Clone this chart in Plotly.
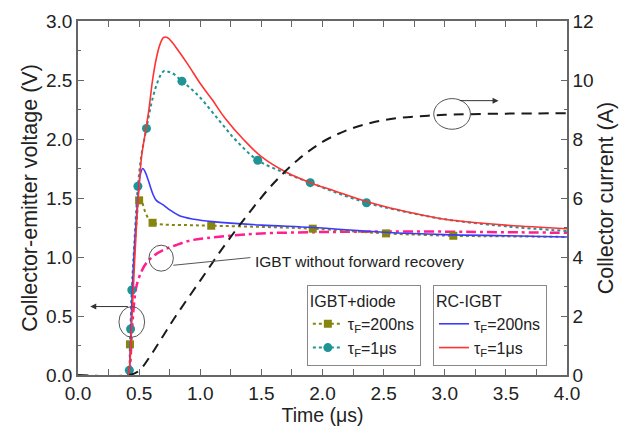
import plotly.graph_objects as go

# ---------------- data ----------------
# Collector current (right axis, A) - black dashed
t_cur = [0.0, 0.42, 0.50, 0.60, 0.70, 0.80, 1.0, 1.2, 1.4, 1.6, 1.8, 2.0, 2.2, 2.4, 2.6, 2.8, 3.0, 3.5, 4.0]
i_cur = [0.0, 0.0, 0.15, 0.7, 1.35, 2.0, 3.2, 4.4, 5.5, 6.5, 7.3, 7.9, 8.3, 8.55, 8.7, 8.77, 8.82, 8.86, 8.87]

# RC-IGBT, tauF = 1us (red)
t_red = [0.41, 0.42, 0.44, 0.46, 0.48, 0.50, 0.52, 0.55, 0.58, 0.61, 0.64, 0.67, 0.70, 0.73, 0.77, 0.82,
         0.90, 1.0, 1.1, 1.2, 1.35, 1.5, 1.7, 1.9, 2.1, 2.3, 2.5, 2.75, 3.0, 3.5, 4.0]
v_red = [0.0, 0.05, 0.45, 0.9, 1.3, 1.6, 1.85, 2.05, 2.25, 2.5, 2.68, 2.80, 2.86, 2.86, 2.82, 2.75,
         2.63, 2.47, 2.33, 2.18, 2.0, 1.85, 1.72, 1.63, 1.56, 1.49, 1.43, 1.37, 1.32, 1.27, 1.24]

# RC-IGBT, tauF = 200ns (blue)
t_blue = [0.41, 0.42, 0.44, 0.46, 0.49, 0.51, 0.53, 0.55, 0.575, 0.61, 0.64, 0.70, 0.75, 0.83, 0.95,
          1.1, 1.5, 1.92, 2.5, 3.0, 3.5, 4.0]
v_blue = [0.0, 0.05, 0.6, 1.05, 1.5, 1.7, 1.75, 1.72, 1.65, 1.54, 1.48, 1.44, 1.40, 1.35, 1.32,
          1.30, 1.27, 1.25, 1.21, 1.19, 1.18, 1.17]

# IGBT+diode, tauF = 1us (teal, dotted)
t_teal = [0.41, 0.42, 0.43, 0.44, 0.46, 0.49, 0.52, 0.56, 0.60, 0.64, 0.68, 0.71, 0.74, 0.77, 0.85, 0.92,
          1.0, 1.16, 1.3, 1.47, 1.7, 1.9, 2.1, 2.36, 2.6, 3.0, 3.5, 4.0]
v_teal = [0.0, 0.04, 0.39, 0.72, 1.1, 1.60, 1.87, 2.09, 2.30, 2.45, 2.55, 2.58, 2.57, 2.56, 2.49, 2.43,
          2.35, 2.15, 1.98, 1.82, 1.71, 1.63, 1.55, 1.46, 1.40, 1.32, 1.26, 1.22]
t_teal_mk = [0.42, 0.43, 0.44, 0.49, 0.56, 0.85, 1.47, 1.90, 2.36]
v_teal_mk = [0.04, 0.39, 0.72, 1.60, 2.09, 2.49, 1.82, 1.63, 1.46]

# IGBT+diode, tauF = 200ns (olive, dotted)
t_olive = [0.41, 0.42, 0.425, 0.45, 0.48, 0.50, 0.52, 0.55, 0.58, 0.61, 0.70, 0.90, 1.09, 1.5, 1.92,
           2.52, 3.07, 3.5, 4.0]
v_olive = [0.0, 0.05, 0.26, 0.85, 1.3, 1.48, 1.47, 1.38, 1.32, 1.29, 1.275, 1.27, 1.265, 1.255, 1.24,
           1.20, 1.18, 1.175, 1.17]
t_olive_mk = [0.425, 0.50, 0.61, 1.09, 1.92, 2.52, 3.07]
v_olive_mk = [0.26, 1.48, 1.29, 1.265, 1.24, 1.20, 1.18]

# IGBT without forward recovery (magenta, dash-dot)
t_mag = [0.41, 0.42, 0.44, 0.46, 0.48, 0.52, 0.56, 0.62, 0.70, 0.80, 0.92, 1.05, 1.24, 1.5, 1.92,
         2.36, 3.0, 3.5, 4.0]
v_mag = [0.0, 0.02, 0.35, 0.62, 0.76, 0.88, 0.95, 1.01, 1.06, 1.10, 1.14, 1.16, 1.18, 1.20, 1.21,
         1.215, 1.215, 1.21, 1.205]

# colours
C_OLIVE = "#85850f"
C_TEAL = "#1e9494"
C_BLUE = "#3b3bff"
C_RED = "#ff3333"
C_MAG = "#ff1f8f"
C_BLACK = "#1a1a1a"
C_AX = "#666666"
FONT = "Liberation Sans, Arial, sans-serif"

fig = go.Figure()

# current (right axis)
fig.add_trace(go.Scatter(x=t_cur, y=i_cur, yaxis="y2", mode="lines", line_shape="spline",
                         line=dict(color=C_BLACK, width=2, dash="10px,7px"), showlegend=False))
# magenta
fig.add_trace(go.Scatter(x=t_mag, y=v_mag, mode="lines", line_shape="spline",
                         line=dict(color=C_MAG, width=2.5, dash="10px,4px,3px,4px"), showlegend=False))
# olive
fig.add_trace(go.Scatter(x=t_olive, y=v_olive, mode="lines", line_shape="spline",
                         line=dict(color=C_OLIVE, width=2, dash="3px,3px"), showlegend=False))
fig.add_trace(go.Scatter(x=t_olive_mk, y=v_olive_mk, mode="markers",
                         marker=dict(symbol="square", size=8, color=C_OLIVE), showlegend=False))
# teal
fig.add_trace(go.Scatter(x=t_teal, y=v_teal, mode="lines", line_shape="spline",
                         line=dict(color=C_TEAL, width=2, dash="3px,3px"), showlegend=False))
fig.add_trace(go.Scatter(x=t_teal_mk, y=v_teal_mk, mode="markers",
                         marker=dict(symbol="circle", size=9, color=C_TEAL), showlegend=False))
# blue, red
fig.add_trace(go.Scatter(x=t_blue, y=v_blue, mode="lines", line_shape="spline",
                         line=dict(color=C_BLUE, width=1.6), showlegend=False))
fig.add_trace(go.Scatter(x=t_red, y=v_red, mode="lines", line_shape="spline",
                         line=dict(color=C_RED, width=1.6), showlegend=False))

# legend-only entries
fig.add_trace(go.Scatter(x=[None], y=[None], mode="lines+markers", name="τ<sub>F</sub>=200ns",
                         line=dict(color=C_OLIVE, width=2, dash="3px,3px"),
                         marker=dict(symbol="square", size=8, color=C_OLIVE), legend="legend"))
fig.add_trace(go.Scatter(x=[None], y=[None], mode="lines+markers", name="τ<sub>F</sub>=1μs",
                         line=dict(color=C_TEAL, width=2, dash="3px,3px"),
                         marker=dict(symbol="circle", size=9, color=C_TEAL), legend="legend"))
fig.add_trace(go.Scatter(x=[None], y=[None], mode="lines", name="τ<sub>F</sub>=200ns",
                         line=dict(color=C_BLUE, width=1.6), legend="legend2"))
fig.add_trace(go.Scatter(x=[None], y=[None], mode="lines", name="τ<sub>F</sub>=1μs",
                         line=dict(color=C_RED, width=1.6), legend="legend2"))

# annotation shapes
shape_line = dict(color="#555555", width=1)
fig.add_shape(type="circle", xref="x", yref="y", x0=0.44 - 0.105, x1=0.44 + 0.105,
              y0=0.45 - 0.13, y1=0.45 + 0.13, line=shape_line)
fig.add_shape(type="circle", xref="x", yref="y", x0=0.68 - 0.10, x1=0.68 + 0.10,
              y0=0.99 - 0.11, y1=0.99 + 0.11, line=shape_line)
fig.add_shape(type="circle", xref="x", yref="y2", x0=3.06 - 0.15, x1=3.06 + 0.15,
              y0=8.85 - 0.52, y1=8.85 + 0.52, line=shape_line)
fig.add_shape(type="line", xref="x", yref="y", x0=0.78, y0=0.93, x1=1.41, y1=0.995, line=shape_line)

fig.add_annotation(x=0.10, y=0.58, ax=0.42, ay=0.58, xref="x", yref="y", axref="x", ayref="y",
                   text="", showarrow=True, arrowhead=2, arrowsize=1.2, arrowwidth=1, arrowcolor="#333333")
fig.add_annotation(x=3.44, y=9.3, ax=3.11, ay=9.3, xref="x", yref="y2", axref="x", ayref="y2",
                   text="", showarrow=True, arrowhead=2, arrowsize=1.2, arrowwidth=1, arrowcolor="#333333")
fig.add_annotation(x=1.43, y=0.96, xref="x", yref="y", text="IGBT without forward recovery",
                   showarrow=False, xanchor="left", yanchor="middle",
                   font=dict(family=FONT, size=15.5, color="#222222"))

tickfont = dict(family=FONT, size=19, color="#222222")
xtitlefont = dict(family=FONT, size=19.5, color="#222222")
ytitlefont = dict(family=FONT, size=21.5, color="#222222")

fig.update_layout(
    width=634, height=442,
    margin=dict(l=78, r=67, t=21, b=67),
    paper_bgcolor="white", plot_bgcolor="white",
    xaxis=dict(range=[0, 4], dtick=0.5, tickformat=".1f", ticks="inside", ticklen=6, tickcolor=C_AX,
               showline=True, linecolor=C_AX, linewidth=1.5, mirror="allticks", showgrid=False,
               zeroline=False, tickfont=tickfont,
               minor=dict(dtick=0.25, ticks="inside", ticklen=3, tickcolor=C_AX),
               title=dict(text="Time (μs)", font=xtitlefont, standoff=5)),
    yaxis=dict(range=[0, 3], dtick=0.5, tickformat=".1f", ticks="inside", ticklen=6, tickcolor=C_AX,
               showline=True, linecolor=C_AX, linewidth=1.5, showgrid=False, zeroline=False,
               tickfont=tickfont,
               minor=dict(dtick=0.25, ticks="inside", ticklen=3, tickcolor=C_AX),
               title=dict(text="Collector-emitter voltage (V)", font=ytitlefont, standoff=3)),
    yaxis2=dict(range=[0, 12], dtick=2, overlaying="y", side="right", anchor="x",
                ticks="inside", ticklen=6, tickcolor=C_AX,
                showline=True, linecolor=C_AX, linewidth=1.5, showgrid=False, zeroline=False,
                tickfont=tickfont,
                minor=dict(dtick=1, ticks="inside", ticklen=3, tickcolor=C_AX),
                title=dict(text="Collector current (A)", font=ytitlefont, standoff=5)),
    legend=dict(x=0.468, y=0.254, xanchor="left", yanchor="top", bordercolor="#888888", borderwidth=1,
                bgcolor="white", font=dict(family=FONT, size=16, color="#222222"),
                title=dict(text="IGBT+diode", font=dict(family=FONT, size=16, color="#222222")),
                itemwidth=30, tracegroupgap=0),
    legend2=dict(x=0.726, y=0.254, xanchor="left", yanchor="top", bordercolor="#888888", borderwidth=1,
                 bgcolor="white", font=dict(family=FONT, size=16, color="#222222"),
                 title=dict(text="RC-IGBT", font=dict(family=FONT, size=16, color="#222222")),
                 itemwidth=30, tracegroupgap=0),
)

fig.write_html("out.html")
